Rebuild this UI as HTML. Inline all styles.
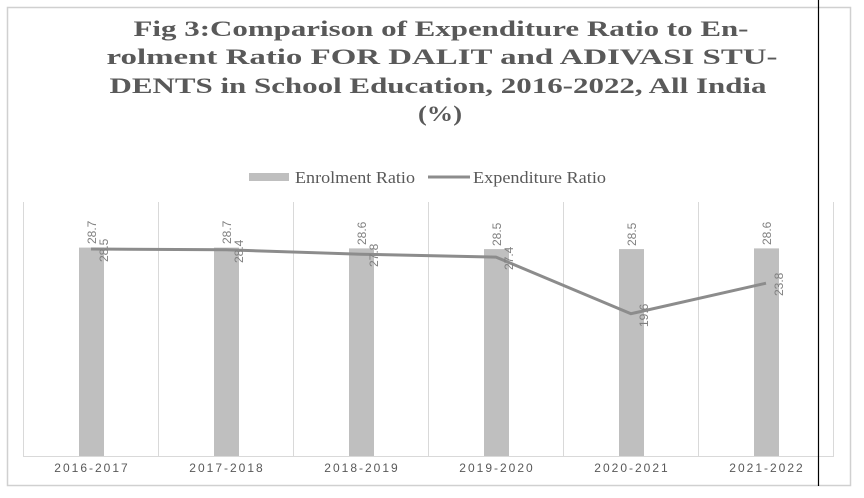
<!DOCTYPE html>
<html><head><meta charset="utf-8"><style>body{margin:0;background:#fff}svg{display:block}</style></head>
<body>
<svg width="864" height="498" xmlns="http://www.w3.org/2000/svg">
<rect x="0" y="0" width="864" height="498" fill="#fff"/>
<rect x="7.5" y="7.5" width="843" height="478" fill="#fff" stroke="#d0d0d0" stroke-width="1.5"/>
<g font-family="Liberation Serif, serif" font-weight="bold" font-size="22" fill="#595959" text-anchor="middle">
<text x="441" y="36" textLength="615" lengthAdjust="spacingAndGlyphs">Fig 3:Comparison of Expenditure Ratio to En-</text>
<text x="442" y="64" textLength="671" lengthAdjust="spacingAndGlyphs">rolment Ratio FOR DALIT and ADIVASI STU-</text>
<text x="438" y="93" textLength="657" lengthAdjust="spacingAndGlyphs">DENTS in School Education, 2016-2022, All India</text>
<text x="440" y="121" textLength="44" lengthAdjust="spacingAndGlyphs">(%)</text>
</g>
<rect x="249" y="173" width="40" height="8" fill="#bfbfbf"/>
<text x="295" y="183" font-family="Liberation Serif, serif" font-size="17" fill="#595959" textLength="120" lengthAdjust="spacingAndGlyphs">Enrolment Ratio</text>
<line x1="428" y1="177" x2="470" y2="177" stroke="#8c8c8c" stroke-width="3"/>
<text x="473" y="183" font-family="Liberation Serif, serif" font-size="17" fill="#595959" textLength="133" lengthAdjust="spacingAndGlyphs">Expenditure Ratio</text>
<g stroke="#d9d9d9" stroke-width="1">
<line x1="23.5" y1="202" x2="23.5" y2="456"/><line x1="158.5" y1="202" x2="158.5" y2="456"/>
<line x1="293.5" y1="202" x2="293.5" y2="456"/><line x1="428.5" y1="202" x2="428.5" y2="456"/>
<line x1="563.5" y1="202" x2="563.5" y2="456"/><line x1="698.5" y1="202" x2="698.5" y2="456"/>
<line x1="833.5" y1="202" x2="833.5" y2="456"/>
<line x1="23" y1="456.5" x2="834" y2="456.5"/>
</g>
<g fill="#bfbfbf">
<rect x="79" y="247.6" width="25" height="208.4"/>
<rect x="214" y="247.6" width="25" height="208.4"/>
<rect x="349" y="248.4" width="25" height="207.6"/>
<rect x="484" y="249.1" width="25" height="206.9"/>
<rect x="619" y="249.1" width="25" height="206.9"/>
<rect x="754" y="248.4" width="25" height="207.6"/>
</g>
<polyline points="91,249 226,249.8 361,254.2 496,257.1 631,313.7 766,283.2" fill="none" stroke="#8c8c8c" stroke-width="3" stroke-linejoin="round"/>
<g font-family="Liberation Sans, sans-serif" font-size="12" fill="#7f7f7f">
<text transform="translate(96,244) rotate(-90)">28.7</text>
<text transform="translate(231,244) rotate(-90)">28.7</text>
<text transform="translate(366,245) rotate(-90)">28.6</text>
<text transform="translate(501,246) rotate(-90)">28.5</text>
<text transform="translate(636,246) rotate(-90)">28.5</text>
<text transform="translate(771,245) rotate(-90)">28.6</text>
<text transform="translate(108,262) rotate(-90)">28.5</text>
<text transform="translate(243,263) rotate(-90)">28.4</text>
<text transform="translate(378,267) rotate(-90)">27.8</text>
<text transform="translate(513,270) rotate(-90)">27.4</text>
<text transform="translate(648,327) rotate(-90)">19.6</text>
<text transform="translate(783,296) rotate(-90)">23.8</text>
</g>
<g font-family="Liberation Sans, sans-serif" font-size="12" fill="#595959" text-anchor="middle" letter-spacing="2">
<text x="92" y="472">2016-2017</text><text x="227" y="472">2017-2018</text>
<text x="362" y="472">2018-2019</text><text x="497" y="472">2019-2020</text>
<text x="632" y="472">2020-2021</text><text x="767" y="472">2021-2022</text>
</g>
<line x1="818.5" y1="0" x2="818.5" y2="486" stroke="#000" stroke-width="1.2"/>
</svg>
</body></html>
